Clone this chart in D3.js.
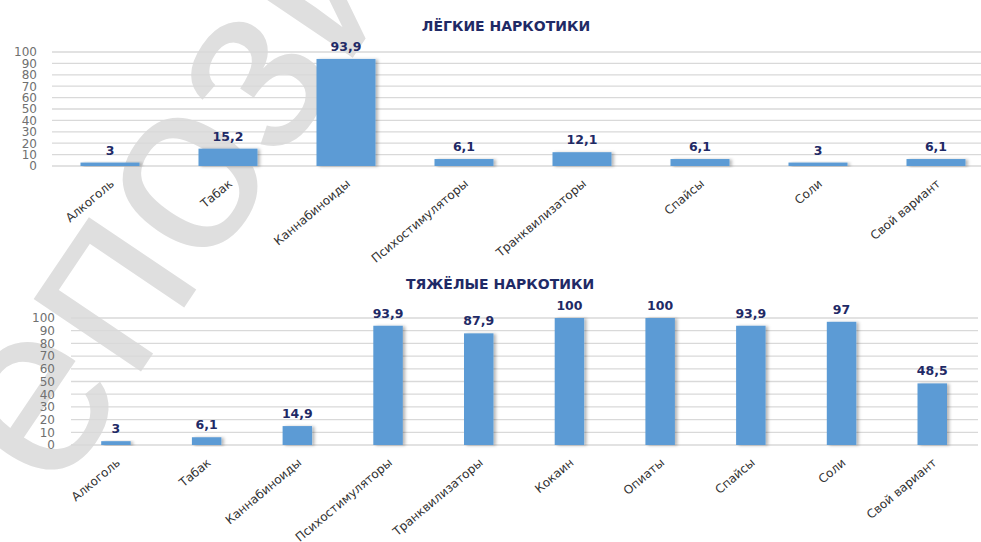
<!DOCTYPE html>
<html><head><meta charset="utf-8">
<script src="https://cdn.jsdelivr.net/npm/d3@7"></script>
<style>html,body{margin:0;padding:0;background:#fff;overflow:hidden}</style>
</head><body>
<svg id="c" width="981" height="542"></svg>
<script>
const lightTitle = "ЛЁГКИЕ НАРКОТИКИ";
const lightCats = ["Алкоголь","Табак","Каннабиноиды","Психостимуляторы","Транквилизаторы","Спайсы","Соли","Свой вариант"];
const lightVals = [3,15.2,93.9,6.1,12.1,6.1,3,6.1];
const heavyTitle = "ТЯЖЁЛЫЕ НАРКОТИКИ";
const heavyCats = ["Алкоголь","Табак","Каннабиноиды","Психостимуляторы","Транквилизаторы","Кокаин","Опиаты","Спайсы","Соли","Свой вариант"];
const heavyVals = [3,6.1,14.9,93.9,87.9,100,100,93.9,97,48.5];
const yTicks = [0,10,20,30,40,50,60,70,80,90,100];
const watermark = "Репозиторий";

const svg = d3.select("#c");
const defs = svg.append("defs");
const f = defs.append("filter").attr("id","sh").attr("x","-20%").attr("y","-20%").attr("width","150%").attr("height","140%");
f.append("feDropShadow").attr("dx",2.5).attr("dy",0.5).attr("stdDeviation",1.5).attr("flood-color","#000").attr("flood-opacity",0.28);

// watermark behind
svg.append("g").attr("transform","translate(-30,625) rotate(-56)")
  .append("text").text(watermark)
  .attr("font-family","Liberation Sans, Arial, sans-serif").attr("font-size",245)
  .attr("fill","#dfdfdf");

const NAVY = "#1f2a66";
function fmt(v){ return String(v).replace(".", ","); }

function chart(cfg){
  const g = svg.append("g");
  const x = d3.scaleBand().domain(cfg.cats).range(cfg.xr).paddingInner(cfg.pad).paddingOuter(cfg.pad/2);
  const y = d3.scaleLinear().domain([0,100]).range(cfg.yr);
  // gridlines
  g.append("g").selectAll("line").data(yTicks).join("line")
    .attr("x1",cfg.gx[0]).attr("x2",cfg.gx[1])
    .attr("y1",d=>y(d)).attr("y2",d=>y(d))
    .attr("stroke","#d9d9d9").attr("stroke-width",1.3);
  // y axis labels
  const ya = g.append("g").attr("transform",`translate(${cfg.gx[0]},0)`)
    .call(d3.axisLeft(y).tickValues(yTicks).tickSize(0).tickPadding(cfg.tp));
  ya.select(".domain").remove();
  ya.selectAll("text").attr("font-family","DejaVu Sans, sans-serif").attr("font-size",12).attr("fill","#707070");
  // bars
  g.append("g").selectAll("rect").data(cfg.vals).join("rect")
    .attr("x",(d,i)=>x(cfg.cats[i])).attr("width",x.bandwidth())
    .attr("y",d=>y(d)).attr("height",d=>y(0)-y(d))
    .attr("fill","#5b9bd5").attr("filter","url(#sh)");
  // value labels
  g.append("g").selectAll("text").data(cfg.vals).join("text")
    .attr("x",(d,i)=>x(cfg.cats[i])+x.bandwidth()/2).attr("y",d=>y(d)-8)
    .attr("text-anchor","middle").attr("font-family","DejaVu Sans, sans-serif")
    .attr("font-weight","bold").attr("font-size",12.5).attr("fill",NAVY).text(fmt);
  // x axis labels
  const xa = g.append("g").attr("transform",`translate(0,${y(0)})`)
    .call(d3.axisBottom(x).tickSize(0));
  xa.select(".domain").remove();
  xa.selectAll("text").attr("x",0).attr("y",0).attr("dy",0)
    .attr("transform",`translate(5,19) rotate(-40)`)
    .attr("text-anchor","end").attr("font-family","DejaVu Sans, sans-serif")
    .attr("font-size",12).attr("fill","#333333");
  // title
  g.append("text").attr("x",cfg.tx).attr("y",cfg.ty).attr("text-anchor","middle")
    .attr("font-family","DejaVu Sans, sans-serif").attr("font-weight","bold")
    .attr("font-size",14).attr("fill",NAVY).text(cfg.title);
}

chart({title:lightTitle, cats:lightCats, vals:lightVals, xr:[51,995], pad:0.5, yr:[166,52], gx:[52,995], tp:15, tx:506, ty:31});
chart({title:heavyTitle, cats:heavyCats, vals:heavyVals, xr:[70.6,977.6], pad:0.675, yr:[445,318], gx:[71,978], tp:16, tx:500, ty:289});
</script>
</body></html>
